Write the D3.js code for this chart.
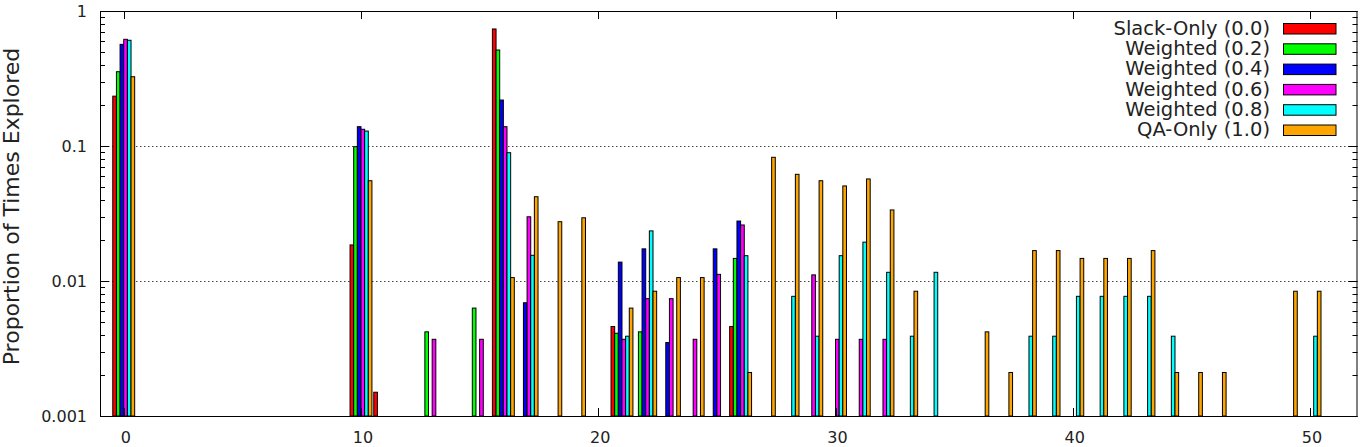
<!DOCTYPE html>
<html>
<head>
<meta charset="utf-8">
<script src="https://cdn.jsdelivr.net/npm/d3@7"></script>
<style>
  html, body { margin: 0; padding: 0; background: #fff; }
  svg { display: block; font-family: "DejaVu Sans", sans-serif; }
</style>
</head>
<body>
<svg id="chart" width="1366" height="447"></svg>
<script>
// ---------------- data ----------------
const categories = d3.range(0, 51); // x positions 0..50
const seriesNames = ["Slack-Only (0.0)", "Weighted (0.2)", "Weighted (0.4)",
                     "Weighted (0.6)", "Weighted (0.8)", "QA-Only (1.0)"];
const seriesColors = ["#ff0000", "#00ff00", "#0000ff", "#ff00ff", "#00ffff", "#ffa500"];

const slackOnly = [
  0.234, null, null, null, null, null, null, null, null, null,
  0.0185, 0.0015, null, null, null, null, 0.736, null, null, null,
  null, 0.0046, null, null, null, null, 0.0046, null, null, null,
  null, null, null, null, null, null, null, null, null, null,
  null, null, null, null, null, null, null, null, null, null,
  null];
const weighted02 = [
  0.355, null, null, null, null, null, null, null, null, null,
  0.0988, null, null, 0.0042, null, 0.0063, 0.514, null, null, null,
  null, 0.0041, 0.0042, null, null, null, 0.0147, null, null, null,
  null, null, null, null, null, null, null, null, null, null,
  null, null, null, null, null, null, null, null, null, null,
  null];
const weighted04 = [
  0.566, null, null, null, null, null, null, null, null, null,
  0.139, null, null, null, null, null, 0.219, 0.0069, null, null,
  null, 0.0138, 0.0173, 0.0035, null, 0.0173, 0.0278, null, null, null,
  null, null, null, null, null, null, null, null, null, null,
  null, null, null, null, null, null, null, null, null, null,
  null];
const weighted06 = [
  0.617, null, null, null, null, null, null, null, null, null,
  0.133, null, null, 0.0037, null, 0.0037, 0.139, 0.0299, null, null,
  null, 0.0037, 0.0074, 0.0074, 0.0037, 0.0112, 0.026, null, null, 0.0111,
  0.0037, 0.0037, 0.0037, null, null, null, null, null, null, null,
  null, null, null, null, null, null, null, null, null, null,
  null];
const weighted08 = [
  0.607, null, null, null, null, null, null, null, null, null,
  0.129, null, null, null, null, null, 0.0892, 0.0155, null, null,
  null, 0.0039, 0.0235, null, null, null, 0.0154, null, 0.0077, 0.0039,
  0.0154, 0.0194, 0.0116, 0.0039, 0.0116, null, null, null, 0.0039, 0.0039,
  0.0077, 0.0077, 0.0077, 0.0077, 0.0039, null, null, null, null, null,
  0.0039];
const qaOnly = [
  0.326, null, null, null, null, null, null, null, null, null,
  0.0553, null, null, null, null, null, 0.0106, 0.0421, 0.0275, 0.0294,
  null, 0.0063, 0.0084, 0.0106, 0.0106, null, 0.0021, 0.0825, 0.0617, 0.0553,
  0.0506, 0.057, 0.0336, 0.0084, null, null, 0.0042, 0.0021, 0.0168, 0.0168,
  0.0147, 0.0147, 0.0147, 0.0168, 0.0021, 0.0021, 0.0021, null, null, 0.0084,
  0.0084];
const seriesValues = [slackOnly, weighted02, weighted04, weighted06, weighted08, qaOnly];

const xTickValues = [0, 10, 20, 30, 40, 50];
const yTickValues = [0.001, 0.01, 0.1, 1];
const yTickLabels = ["0.001", "0.01", "0.1", "1"];
const yLabel = "Proportion of Times Explored";

// ---------------- layout ----------------
const svg = d3.select("#chart");
const L = 100, R = 1357.5, T = 11, B = 416;
const x = d3.scaleLinear().domain([-1, 52]).range([L, R]);
const y = d3.scaleLog().domain([0.001, 1]).range([B, T]);
const barW = x(1 / 6.5) - x(0);

svg.append("rect").attr("width", 1366).attr("height", 447).attr("fill", "#fff");

// grid (dotted) at major decades
svg.append("g").selectAll("line").data(yTickValues).join("line")
  .attr("x1", L).attr("x2", R)
  .attr("y1", d => Math.round(y(d)) + 0.5).attr("y2", d => Math.round(y(d)) + 0.5)
  .attr("stroke", "#444").attr("stroke-width", 1)
  .attr("stroke-dasharray", "1.5,2.5");

// bars
const barsG = svg.append("g");
seriesValues.forEach((vals, k) => {
  const pts = categories.map((c, i) => ({c, v: vals[i]})).filter(d => d.v != null);
  barsG.append("g").selectAll("rect").data(pts).join("rect")
    .attr("x", d => x(d.c) + (k - 3) * barW)
    .attr("y", d => y(d.v))
    .attr("width", barW)
    .attr("height", d => y(0.001) - y(d.v))
    .attr("fill", seriesColors[k])
    .attr("stroke", "#000")
    .attr("stroke-width", 1);
});

// border
svg.append("rect")
  .attr("x", L + 0.5).attr("y", T + 0.5)
  .attr("width", R - L - 1).attr("height", B - T)
  .attr("fill", "none").attr("stroke", "#000").attr("stroke-width", 1);

// y ticks (major & minor), mirrored
const allY = y.ticks();
const tickG = svg.append("g").attr("stroke", "#000").attr("stroke-width", 1);
allY.forEach(v => {
  const major = yTickValues.some(t => Math.abs(t - v) < 1e-12);
  const len = major ? 9 : 5;
  const yy = Math.round(y(v)) + 0.5;
  tickG.append("line").attr("x1", L).attr("x2", L + len).attr("y1", yy).attr("y2", yy);
  tickG.append("line").attr("x1", R).attr("x2", R - len).attr("y1", yy).attr("y2", yy);
});
// x ticks, mirrored
xTickValues.forEach(v => {
  const xx = Math.round(x(v)) + 0.5;
  tickG.append("line").attr("x1", xx).attr("x2", xx).attr("y1", B).attr("y2", B - 8);
  tickG.append("line").attr("x1", xx).attr("x2", xx).attr("y1", T).attr("y2", T + 8);
});

// tick labels
svg.append("g").selectAll("text").data(yTickValues).join("text")
  .attr("x", 87).attr("y", d => y(d))
  .attr("dy", "0.36em")
  .attr("text-anchor", "end")
  .attr("font-size", 16).attr("fill", "#222")
  .text((d, i) => yTickLabels[i]);

svg.append("g").selectAll("text").data(xTickValues).join("text")
  .attr("x", d => x(d) + 2).attr("y", 443)
  .attr("text-anchor", "middle")
  .attr("font-size", 16).attr("fill", "#222")
  .text(d => d);

// y label
svg.append("text")
  .attr("transform", "translate(19,206.5) rotate(-90)")
  .attr("text-anchor", "middle")
  .attr("font-size", 22).attr("fill", "#222")
  .text(yLabel);

// legend
const lg = svg.append("g");
seriesNames.forEach((name, i) => {
  const yy = 23.5 + i * 20.3;
  lg.append("text")
    .attr("x", 1270).attr("y", yy + 11.2)
    .attr("text-anchor", "end")
    .attr("font-size", 19.5).attr("fill", "#222")
    .text(name);
  lg.append("rect")
    .attr("x", 1283.5).attr("y", yy)
    .attr("width", 52.5).attr("height", 10.5)
    .attr("fill", seriesColors[i]).attr("stroke", "#000").attr("stroke-width", 1);
});
</script>
</body>
</html>
